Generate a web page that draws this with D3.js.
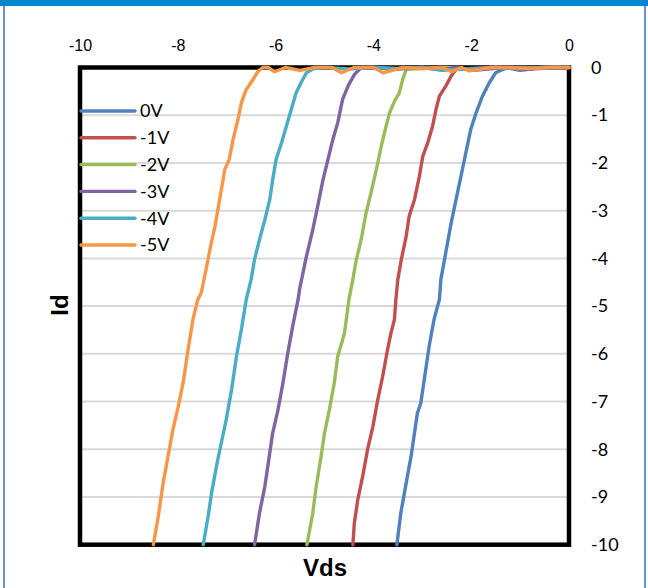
<!DOCTYPE html>
<html>
<head>
<meta charset="utf-8">
<script src="https://cdn.jsdelivr.net/npm/d3@7/dist/d3.min.js"></script>
<style>
  html, body { margin: 0; padding: 0; background: #ffffff; }
  svg { display: block; }
</style>
</head>
<body>
<svg id="chart" width="648" height="588"></svg>
<script>
// Drain current Id versus drain-source voltage Vds, one curve per gate voltage.
const seriesNames = ["0V", "-1V", "-2V", "-3V", "-4V", "-5V"];
const seriesColors = ["#4F81BD", "#C0504D", "#9BBB59", "#8064A2", "#4BACC6", "#F79646"];

const xTicks = [-10, -8, -6, -4, -2, 0];
const yTicks = [0, -1, -2, -3, -4, -5, -6, -7, -8, -9, -10];

// [Vds, Id] samples per gate voltage
const curve0V = [
  [0, 0], [-0.3, 0], [-0.6, -0.02], [-0.9, 0], [-1.2, 0], [-1.36, -0.04], [-1.50, -0.11], [-1.63, -0.32],
  [-1.77, -0.60], [-1.90, -0.95], [-2.01, -1.30], [-2.11, -1.79], [-2.21, -2.28],
  [-2.31, -2.77], [-2.41, -3.26], [-2.52, -3.88], [-2.62, -4.44], [-2.65, -4.86],
  [-2.76, -5.28], [-2.86, -5.84], [-2.96, -6.54], [-3.03, -7.03], [-3.10, -7.24],
  [-3.16, -7.66], [-3.23, -8.15], [-3.33, -8.71], [-3.44, -9.34], [-3.52, -10]
];
const curve1V = [
  [0, 0], [-0.4, 0], [-0.8, -0.03], [-1.2, 0], [-1.6, 0], [-2.0, -0.02], [-2.31, -0.04], [-2.41, -0.18],
  [-2.52, -0.39], [-2.65, -0.60], [-2.72, -0.88], [-2.79, -1.23], [-2.89, -1.58],
  [-2.99, -1.86], [-3.06, -2.28], [-3.16, -2.77], [-3.27, -3.12], [-3.33, -3.54],
  [-3.43, -4.03], [-3.50, -4.44], [-3.54, -4.86], [-3.57, -5.28], [-3.64, -5.56],
  [-3.71, -5.91], [-3.81, -6.47], [-3.91, -6.96], [-4.01, -7.52], [-4.12, -8.01],
  [-4.22, -8.57], [-4.32, -9.06], [-4.39, -9.55], [-4.42, -10]
];
const curve2V = [
  [0, 0], [-0.5, 0], [-1.0, -0.02], [-1.5, 0], [-2.0, -0.04], [-2.5, 0], [-3.0, -0.02], [-3.33, -0.04],
  [-3.40, -0.25], [-3.47, -0.53], [-3.57, -0.71], [-3.67, -0.95], [-3.74, -1.23],
  [-3.84, -1.65], [-3.94, -2.14], [-4.05, -2.63], [-4.15, -3.05], [-4.25, -3.61],
  [-4.35, -4.03], [-4.42, -4.44], [-4.50, -4.86], [-4.59, -5.56], [-4.64, -5.74],
  [-4.73, -6.05], [-4.80, -6.61], [-4.90, -7.17], [-5.00, -7.66], [-5.07, -8.15],
  [-5.17, -8.78], [-5.24, -9.34], [-5.36, -10]
];
const curve3V = [
  [0, 0], [-0.5, 0], [-1.0, -0.06], [-1.3, 0], [-1.95, -0.06], [-2.3, 0], [-2.6, -0.05], [-3.0, 0],
  [-3.5, -0.03], [-4.0, 0], [-4.25, 0], [-4.39, -0.15], [-4.52, -0.39], [-4.63, -0.67],
  [-4.73, -1.16], [-4.83, -1.51], [-4.93, -1.93], [-5.03, -2.35], [-5.14, -2.91],
  [-5.24, -3.40], [-5.37, -3.96], [-5.51, -4.65], [-5.54, -4.86], [-5.65, -5.42],
  [-5.75, -5.98], [-5.85, -6.61], [-5.95, -7.17], [-6.06, -7.66], [-6.12, -8.08],
  [-6.22, -8.78], [-6.33, -9.34], [-6.43, -10]
];
const curve4V = [
  [0, 0], [-0.5, 0], [-1.0, -0.02], [-1.5, 0], [-2.6, -0.06], [-3.0, 0], [-3.5, -0.02], [-4.0, 0],
  [-4.5, -0.03], [-5.0, 0], [-5.24, -0.03], [-5.37, -0.11], [-5.48, -0.32], [-5.58, -0.53],
  [-5.68, -0.88], [-5.78, -1.23], [-5.88, -1.58], [-5.99, -1.93], [-6.06, -2.35],
  [-6.12, -2.77], [-6.22, -3.19], [-6.33, -3.61], [-6.43, -4.02], [-6.50, -4.44],
  [-6.60, -4.86], [-6.70, -5.49], [-6.80, -6.05], [-6.90, -6.75], [-7.01, -7.38],
  [-7.14, -8.01], [-7.21, -8.36], [-7.31, -8.92], [-7.38, -9.41], [-7.48, -10]
];
const curve5V = [
  [0, 0], [-0.4, 0], [-0.8, -0.02], [-1.2, 0], [-1.6, 0], [-2.04, -0.07], [-2.2, 0], [-2.4, -0.09],
  [-2.6, 0], [-3.0, -0.02], [-3.4, 0], [-3.8, -0.11], [-4.0, 0], [-4.4, 0], [-4.65, -0.11],
  [-4.85, 0], [-5.2, 0], [-5.5, -0.06], [-5.8, 0], [-6.02, -0.09], [-6.15, 0], [-6.26, 0],
  [-6.36, -0.08], [-6.46, -0.25], [-6.60, -0.46], [-6.70, -0.74], [-6.77, -1.09],
  [-6.87, -1.51], [-6.95, -1.93], [-7.04, -2.14], [-7.11, -2.56], [-7.18, -2.98],
  [-7.24, -3.33], [-7.33, -3.75], [-7.41, -4.17], [-7.52, -4.72], [-7.59, -4.86],
  [-7.69, -5.28], [-7.79, -5.91], [-7.89, -6.60], [-7.99, -7.10], [-8.10, -7.59],
  [-8.20, -8.15], [-8.30, -8.71], [-8.40, -9.41], [-8.50, -10]
];
const curves = [curve0V, curve1V, curve2V, curve3V, curve4V, curve5V];

const svg = d3.select("#chart");
const W = 648, H = 588;
const plot = { left: 80, right: 569, top: 67.5, bottom: 544.7 };

const x = d3.scaleLinear().domain([-10, 0]).range([plot.left, plot.right]);
const y = d3.scaleLinear().domain([0, -10]).range([plot.top, plot.bottom]);

// Plain hyphen-minus tick text
const plainNumber = d => String(d);

// Outer frame: blue top bar and thin side rules
svg.append("rect").attr("x", 0).attr("y", 0).attr("width", W).attr("height", H).attr("fill", "#ffffff");
svg.append("rect").attr("x", 0).attr("y", 0).attr("width", W).attr("height", 6).attr("fill", "#0288CF");
svg.append("line").attr("x1", 4).attr("x2", 4).attr("y1", 0).attr("y2", H)
  .attr("stroke", "#2F6FC4").attr("stroke-width", 1.5);
svg.append("line").attr("x1", 645).attr("x2", 645).attr("y1", 0).attr("y2", H)
  .attr("stroke", "#2F6FC4").attr("stroke-width", 1.5);

// Horizontal gridlines
svg.append("g")
  .selectAll("line")
  .data(yTicks.filter(d => d !== 0 && d !== -10))
  .join("line")
  .attr("x1", plot.left).attr("x2", plot.right)
  .attr("y1", d => y(d)).attr("y2", d => y(d))
  .attr("stroke", "#D9D9D9").attr("stroke-width", 2);

// Top axis (Vds)
const xAxis = svg.append("g")
  .attr("transform", `translate(0,${plot.top})`)
  .call(d3.axisTop(x).tickValues(xTicks).tickSize(0).tickPadding(17).tickFormat(plainNumber));
xAxis.select(".domain").remove();
xAxis.selectAll("text")
  .attr("font-family", "'Liberation Sans', Arial, sans-serif")
  .attr("font-size", 16).attr("fill", "#000");

// Right axis (Id)
const yAxis = svg.append("g")
  .attr("transform", `translate(${plot.right},0)`)
  .call(d3.axisRight(y).tickValues(yTicks).tickSize(0).tickPadding(22).tickFormat(plainNumber));
yAxis.select(".domain").remove();
yAxis.selectAll("text")
  .attr("font-family", "Lato, 'Open Sans', sans-serif")
  .attr("font-size", 18).attr("fill", "#000");

// Plot border
svg.append("rect")
  .attr("x", plot.left).attr("y", plot.top)
  .attr("width", plot.right - plot.left).attr("height", plot.bottom - plot.top)
  .attr("fill", "none").attr("stroke", "#000").attr("stroke-width", 4.5);

// Curves
const line = d3.line().x(d => x(d[0])).y(d => y(d[1])).curve(d3.curveLinear);
svg.append("g")
  .selectAll("path")
  .data(curves)
  .join("path")
  .attr("d", line)
  .attr("fill", "none")
  .attr("stroke", (d, i) => seriesColors[i])
  .attr("stroke-width", 3.4)
  .attr("stroke-linejoin", "round")
  .attr("stroke-linecap", "round");

// Legend
const legendY0 = 111, legendStep = 26.8;
const legend = svg.append("g");
seriesNames.forEach((name, i) => {
  const ly = legendY0 + i * legendStep;
  legend.append("line")
    .attr("x1", 81).attr("x2", 135).attr("y1", ly).attr("y2", ly)
    .attr("stroke", seriesColors[i]).attr("stroke-width", 3.4).attr("stroke-linecap", "round");
  legend.append("text")
    .attr("x", 140).attr("y", ly).attr("dy", "0.35em")
    .attr("font-family", "Lato, 'Open Sans', sans-serif")
    .attr("font-size", 18).attr("fill", "#000")
    .text(name);
});

// Axis titles
svg.append("text")
  .attr("x", 325).attr("y", 576)
  .attr("text-anchor", "middle")
  .attr("font-family", "'Liberation Sans', Arial, sans-serif")
  .attr("font-weight", "bold").attr("font-size", 24)
  .text("Vds");
svg.append("text")
  .attr("transform", "translate(68,305) rotate(-90)")
  .attr("text-anchor", "middle")
  .attr("font-family", "'Liberation Sans', Arial, sans-serif")
  .attr("font-weight", "bold").attr("font-size", 24)
  .text("Id");
</script>
</body>
</html>
